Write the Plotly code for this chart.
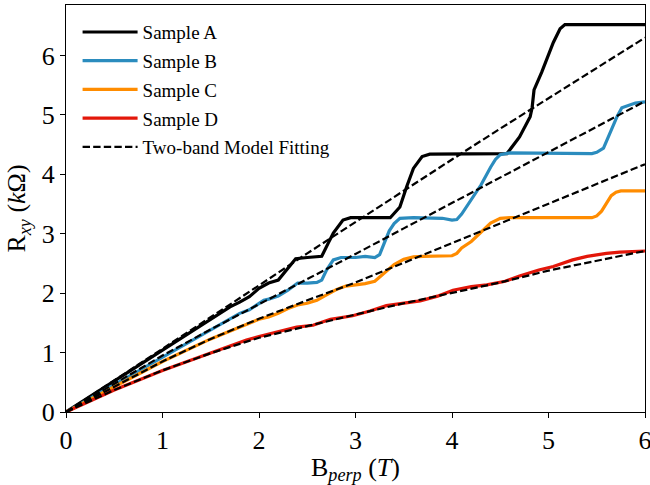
import plotly.graph_objects as go

# ---- data ----
xA = [0, 0.5, 1.0, 1.5, 1.7, 1.8, 1.9, 2.0, 2.1, 2.2, 2.3, 2.38, 2.5, 2.65, 2.72, 2.77, 2.87, 2.95,
      3.36, 3.46, 3.53, 3.6, 3.69, 3.77, 4.57, 4.7, 4.81, 4.83, 4.85, 4.93, 5.05, 5.12, 5.17, 6.0]
yA = [0, 0.52, 1.04, 1.56, 1.77, 1.85, 1.94, 2.08, 2.17, 2.22, 2.42, 2.58, 2.6, 2.62, 2.85, 3.01, 3.23, 3.27,
      3.27, 3.45, 3.79, 4.1, 4.3, 4.34, 4.35, 4.63, 4.97, 5.12, 5.42, 5.72, 6.22, 6.45, 6.52, 6.52]

xB = [0, 0.5, 1.0, 1.5, 1.7, 1.8, 1.9, 2.0, 2.05, 2.1, 2.2, 2.3, 2.4, 2.5, 2.6, 2.65, 2.7, 2.77, 2.85,
      3.0, 3.1, 3.2, 3.25, 3.3, 3.35, 3.4, 3.46, 3.6, 3.8, 3.9, 4.0, 4.05, 4.1, 4.2, 4.3, 4.4, 4.45, 4.5,
      4.6, 5.45, 5.5, 5.57, 5.64, 5.71, 5.76, 5.84, 5.9, 6.0]
yB = [0, 0.46, 0.92, 1.38, 1.57, 1.66, 1.72, 1.82, 1.88, 1.9, 1.95, 2.05, 2.17, 2.17, 2.18, 2.22, 2.39, 2.56, 2.6,
      2.6, 2.62, 2.6, 2.65, 2.85, 3.05, 3.17, 3.26, 3.27, 3.27, 3.26, 3.23, 3.24, 3.33, 3.57, 3.82, 4.12, 4.25, 4.33,
      4.36, 4.35, 4.37, 4.44, 4.70, 4.97, 5.12, 5.17, 5.2, 5.22]

xC = [0, 0.5, 1.0, 1.5, 1.9, 2.0, 2.1, 2.2, 2.3, 2.4, 2.5, 2.6, 2.7, 2.8, 2.9, 3.0, 3.1, 3.2, 3.3, 3.4, 3.5,
      3.6, 3.7, 4.0, 4.05, 4.1, 4.2, 4.3, 4.4, 4.5, 4.6, 5.45, 5.5, 5.55, 5.6, 5.65, 5.7, 5.75, 6.0]
yC = [0, 0.43, 0.85, 1.23, 1.49, 1.56, 1.6, 1.66, 1.74, 1.8, 1.83, 1.88, 1.97, 2.06, 2.12, 2.14, 2.16, 2.2, 2.34, 2.48, 2.57,
      2.61, 2.62, 2.63, 2.67, 2.76, 2.87, 3.02, 3.18, 3.26, 3.27, 3.27, 3.3, 3.38, 3.5, 3.64, 3.7, 3.72, 3.72]

xD = [0, 0.5, 1.0, 1.5, 1.6, 1.87, 2.0, 2.1, 2.22, 2.39, 2.56, 2.74, 2.97, 3.15, 3.32, 3.5, 3.67, 3.85,
      4.01, 4.2, 4.36, 4.55, 4.7, 4.9, 5.05, 5.25, 5.4, 5.6, 5.74, 6.0]
yD = [0, 0.37, 0.7, 0.99, 1.04, 1.21, 1.27, 1.31, 1.35, 1.43, 1.46, 1.56, 1.62, 1.7, 1.79, 1.83, 1.87, 1.95,
      2.05, 2.11, 2.14, 2.2, 2.29, 2.39, 2.45, 2.56, 2.62, 2.67, 2.69, 2.71]

xFit = [0, 0.5, 1.0, 1.5, 2.0, 2.5, 3.0, 3.5, 4.0, 4.5, 5.0, 5.5, 6.0]
fitA = [0, 0.53, 1.06, 1.59, 2.13, 2.67, 3.2, 3.73, 4.25, 4.77, 5.28, 5.79, 6.3]
fitB = [0, 0.48, 0.95, 1.39, 1.81, 2.24, 2.66, 3.09, 3.52, 3.94, 4.37, 4.80, 5.23]
fitC = [0, 0.43, 0.85, 1.23, 1.57, 1.88, 2.18, 2.51, 2.84, 3.17, 3.5, 3.84, 4.17]
fitD = [0, 0.37, 0.7, 0.99, 1.25, 1.45, 1.64, 1.83, 2.0, 2.18, 2.38, 2.55, 2.71]

names = ["Sample A", "Sample B", "Sample C", "Sample D"]
colors = ["#000000", "#2b8cbe", "#ff8c00", "#e3170a"]
fit_label = "Two-band Model Fitting"

xtick_vals = [0, 1, 2, 3, 4, 5, 6]
ytick_vals = [0, 1, 2, 3, 4, 5, 6]

FONT = "Liberation Serif, DejaVu Serif, serif"

fig = go.Figure()
for i, (xs, ys) in enumerate([(xA, yA), (xB, yB), (xC, yC), (xD, yD)]):
    fig.add_trace(go.Scatter(x=xs, y=ys, mode="lines", name=names[i],
                             line=dict(color=colors[i], width=3.2),
                             legendgroup=names[i]))
for j, fy in enumerate([fitA, fitB, fitC, fitD]):
    fig.add_trace(go.Scatter(x=xFit, y=fy, mode="lines", name=fit_label,
                             line=dict(color="black", width=2.2, dash="7.4px,3.2px"),
                             showlegend=(j == 0), legendgroup="fit"))

fig.update_layout(
    width=650, height=485,
    margin=dict(l=66, r=5, t=5, b=73),
    plot_bgcolor="white", paper_bgcolor="white",
    font=dict(family=FONT, color="black"),
    showlegend=True,
    legend=dict(x=0.02, y=0.98, xanchor="left", yanchor="top",
                bgcolor="rgba(0,0,0,0)", font=dict(size=19, family=FONT),
                itemwidth=55, tracegroupgap=1, traceorder="grouped"),
    xaxis=dict(range=[0, 6], tickvals=xtick_vals, showgrid=False, zeroline=False,
               showline=True, linecolor="black", linewidth=1.3, mirror=True,
               ticks="outside", ticklen=5, tickwidth=1.2, tickcolor="black",
               ticklabeloverflow="allow", automargin=False,
               tickfont=dict(size=26, family=FONT),
               title=dict(text="B<sub><i>perp</i></sub> (<i>T</i>)", font=dict(size=26, family=FONT), standoff=3)),
    yaxis=dict(range=[0, 6.85], tickvals=ytick_vals, showgrid=False, zeroline=False,
               showline=True, linecolor="black", linewidth=1.3, mirror=True,
               ticks="outside", ticklen=5, tickwidth=1.2, tickcolor="black",
               automargin=False,
               tickfont=dict(size=26, family=FONT),
               title=dict(text="R<sub><i>xy</i></sub> (<i>k</i>Ω)", font=dict(size=26, family=FONT), standoff=8)),
)

fig.write_html("out.html")
